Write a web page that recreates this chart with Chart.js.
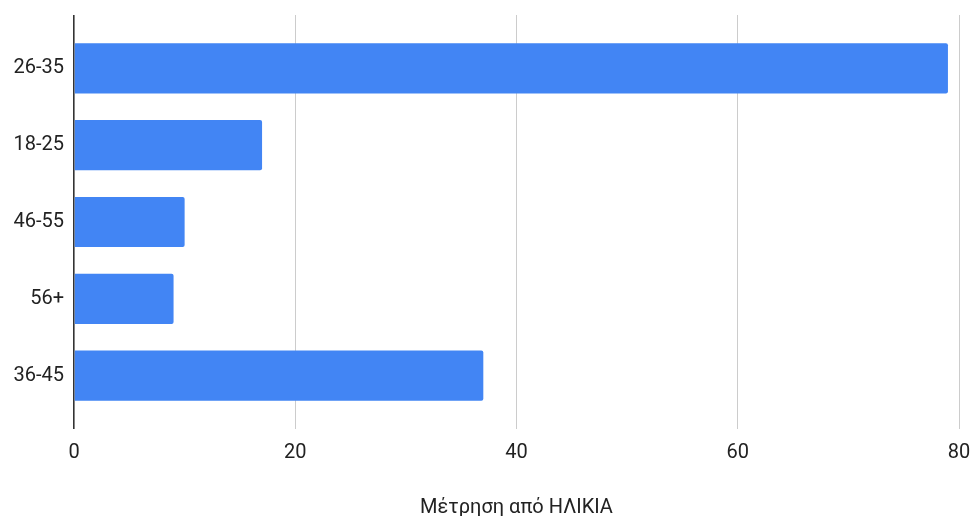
<!DOCTYPE html>
<html>
<head>
<meta charset="utf-8">
<script src="https://cdn.jsdelivr.net/npm/chart.js@4/dist/chart.umd.min.js"></script>
<style>
  html, body { margin: 0; padding: 0; background: #fff; }
  #wrap { width: 973px; height: 516px; }
</style>
</head>
<body>
<div id="wrap"><canvas id="c" width="973" height="516"></canvas></div>
<script>
// Age groups, in the order they are listed
const ageGroups = ['26-35', '18-25', '46-55', '56+', '36-45'];
// Count of responses per age group
const counts = [79, 17, 10, 9, 37];
// Value axis ticks
const xTicks = [0, 20, 40, 60, 80];
const axisTitle = 'Μέτρηση από ΗΛΙΚΙΑ';

const FONT = 'Roboto';
const gridColor = ctx => (ctx.tick && ctx.tick.value === 0) ? '#333333' : '#cccccc';
const gridWidth = ctx => (ctx.tick && ctx.tick.value === 0) ? 1.6 : 1;

const valueAxisBase = {
  type: 'linear',
  min: xTicks[0],
  max: xTicks[xTicks.length - 1],
  afterBuildTicks: s => { s.ticks = xTicks.map(v => ({ value: v })); },
  // keep the plot edges fixed; the end labels may overhang
  afterFit: s => { s.paddingLeft = 0; s.paddingRight = 0; },
  border: { display: false }
};

new Chart(document.getElementById('c'), {
  type: 'bar',
  data: {
    labels: ageGroups,
    datasets: [{
      data: counts,
      backgroundColor: '#4285f4',
      borderWidth: 0,
      borderRadius: 2,
      borderSkipped: 'start',
      categoryPercentage: 1,
      barPercentage: 0.654
    }]
  },
  options: {
    indexAxis: 'y',
    responsive: false,
    animation: false,
    layout: { padding: { left: 0, right: 14, top: 15, bottom: 0 } },
    plugins: { legend: { display: false }, tooltip: { enabled: false } },
    scales: {
      x: Object.assign({}, valueAxisBase, {
        position: 'bottom',
        grid: { color: gridColor, tickColor: gridColor, lineWidth: gridWidth, tickWidth: gridWidth, tickLength: 15 },
        ticks: { color: '#222', padding: 12, font: { family: FONT, size: 20 } },
        title: {
          display: true, text: axisTitle, color: '#222',
          font: { family: FONT, size: 20, lineHeight: 0.8 },
          padding: { top: 23, bottom: 0 }
        }
      }),
      xTop: Object.assign({}, valueAxisBase, {
        position: 'top',
        axis: 'x',
        grid: { color: gridColor, tickColor: gridColor, lineWidth: gridWidth, tickWidth: gridWidth, tickLength: 15, drawOnChartArea: false },
        ticks: { display: false }
      }),
      y: {
        type: 'category',
        grid: { display: false, drawTicks: false },
        border: { display: false },
        ticks: { color: '#222', padding: 10, font: { family: FONT, size: 20 } },
        afterFit: s => { s.width = 74; }
      }
    }
  }
});
</script>
</body>
</html>
